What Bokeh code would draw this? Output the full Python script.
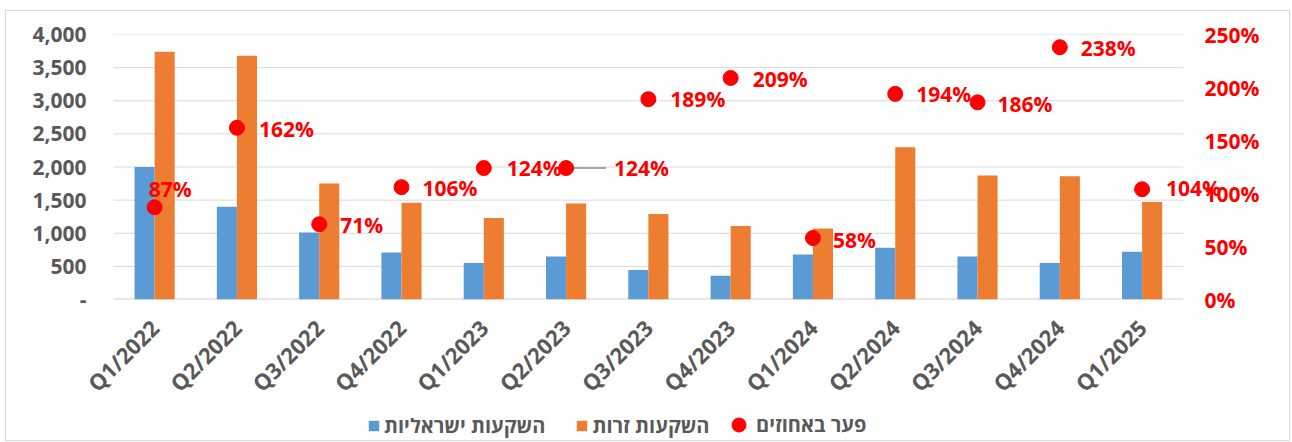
import math
from bokeh.plotting import figure
from bokeh.layouts import column
from bokeh.models import (ColumnDataSource, Range1d, LinearAxis, FixedTicker,
                          Legend, LegendItem, LabelSet)
from bokeh.core.properties import value
from bokeh.transform import dodge
from bokeh.embed import file_html
from bokeh.resources import INLINE

categories = ["Q1/2022", "Q2/2022", "Q3/2022", "Q4/2022", "Q1/2023", "Q2/2023", "Q3/2023",
              "Q4/2023", "Q1/2024", "Q2/2024", "Q3/2024", "Q4/2024", "Q1/2025"]
israeli = [2000, 1400, 1010, 710, 550, 650, 445, 360, 680, 780, 650, 550, 720]
foreign = [3740, 3680, 1750, 1460, 1230, 1450, 1290, 1110, 1070, 2300, 1870, 1860, 1470]
gap_pct = [87, 162, 71, 106, 124, 124, 189, 209, 58, 194, 186, 238, 104]

left_ticks = [0, 500, 1000, 1500, 2000, 2500, 3000, 3500, 4000]
left_tick_labels = ["-", "500", "1,000", "1,500", "2,000", "2,500", "3,000", "3,500", "4,000"]
right_ticks = [0, 0.5, 1.0, 1.5, 2.0, 2.5]
right_tick_labels = ["0%", "50%", "100%", "150%", "200%", "250%"]

series_names = ["השקעות ישראליות", "השקעות זרות", "פער באחוזים"]

# label placement (screen pixels, style only)
label_dx = [-6, 22, 21, 21, 23, 48, 22, 22, 20, 21, 20, 21, 24]
label_dy = [18, -1, -1, -1, 0, 0, 0, -1, -2, 0, -2, -1, 1]

BLUE = "#5B9BD5"
ORANGE = "#ED7D31"
RED = "#FF0000"
GRAY = "#595959"
GRID = "#d9d9d9"
FONT = "Open Sans"
W = 1283

n = len(categories)
xs = [i + 0.5 for i in range(n)]

src = ColumnDataSource(dict(
    x=xs, isr=israeli, frn=foreign,
    pct=[v / 100 for v in gap_pct],
    lbl=[f"{v}%" for v in gap_pct],
    dx=label_dx, dy=label_dy,
))

# frame extends a little past the last category so the last label is not clipped
p = figure(x_range=Range1d(0, n + 0.55), y_range=Range1d(0, 4000),
           width=W, height=399, output_backend="svg", toolbar_location=None,
           min_border_left=107, min_border_right=61, min_border_top=23, min_border_bottom=100)
p.extra_y_ranges = {"pct": Range1d(0, 2.5)}
p.outline_line_color = None
p.xgrid.grid_line_color = None
p.ygrid.grid_line_color = None

# horizontal grid lines spanning the category area only
p.segment(x0=[0] * len(left_ticks), x1=[n] * len(left_ticks), y0=left_ticks, y1=left_ticks,
          line_color=[("#d0d0d0" if t == 0 else GRID) for t in left_ticks],
          line_width=[2 if t == 0 else 1 for t in left_ticks])

r_isr = p.vbar(x=dodge("x", -0.122), top="isr", width=0.244, source=src,
               fill_color=BLUE, line_color=None)
r_frn = p.vbar(x=dodge("x", 0.122), top="frn", width=0.244, source=src,
               fill_color=ORANGE, line_color=None)

# leader line for the Q2/2023 label
i_lead = 5
unit_px = 1070 / n
p.segment(x0=[xs[i_lead]], y0=[gap_pct[i_lead] / 100], x1=[xs[i_lead] + 40 / unit_px],
          y1=[gap_pct[i_lead] / 100], y_range_name="pct", line_color="#a6a6a6", line_width=2)

r_pct = p.scatter(x="x", y="pct", source=src, y_range_name="pct", size=15,
                  fill_color=RED, line_color=RED, marker="circle")

labels = LabelSet(x="x", y="pct", text="lbl", source=src, y_range_name="pct",
                  x_offset="dx", y_offset="dy", text_align="left", text_baseline="middle",
                  text_color=RED, text_font_size="21px", text_font_style="bold",
                  text_font=value(FONT))
p.add_layout(labels)

# left axis
ya = p.yaxis[0]
ya.ticker = FixedTicker(ticks=left_ticks)
ya.major_label_overrides = {t: l for t, l in zip(left_ticks, left_tick_labels)}
ya.axis_line_color = None
ya.major_tick_line_color = None
ya.minor_tick_line_color = None
ya.major_label_standoff = 21
ya.major_label_text_color = GRAY
ya.major_label_text_font_style = "bold"
ya.major_label_text_font_size = "21px"
ya.major_label_text_font = FONT

# right axis
ra = LinearAxis(y_range_name="pct", ticker=FixedTicker(ticks=right_ticks))
ra.major_label_overrides = {t: l for t, l in zip(right_ticks, right_tick_labels)}
ra.axis_line_color = None
ra.major_tick_line_color = None
ra.minor_tick_line_color = None
ra.major_label_standoff = -30
ra.major_label_text_color = RED
ra.major_label_text_font_style = "bold"
ra.major_label_text_font_size = "21px"
ra.major_label_text_font = FONT
p.add_layout(ra, "right")

# x axis
xa = p.xaxis[0]
xa.ticker = FixedTicker(ticks=xs)
xa.major_label_overrides = {x: c for x, c in zip(xs, categories)}
xa.axis_line_color = None
xa.major_tick_line_color = None
xa.minor_tick_line_color = None
xa.major_label_orientation = math.pi / 4
xa.major_label_standoff = 18
xa.major_label_text_color = GRAY
xa.major_label_text_font_style = "bold"
xa.major_label_text_font_size = "22px"
xa.major_label_text_font = FONT

# legend strip below the chart
lf = figure(x_range=Range1d(0, 1), y_range=Range1d(0, 1), width=W, height=30,
            output_backend="svg", toolbar_location=None,
            x_axis_location=None, y_axis_location=None,
            min_border_left=0, min_border_right=0, min_border_top=0, min_border_bottom=0)
lf.grid.grid_line_color = None
lf.outline_line_color = None
l_isr = lf.vbar(x=[5], top=[5], bottom=[4], width=0.1, fill_color=BLUE, line_color=None)
l_frn = lf.vbar(x=[5], top=[5], bottom=[4], width=0.1, fill_color=ORANGE, line_color=None)
l_pct = lf.scatter(x=[5], y=[5], size=15, fill_color=RED, line_color=RED, marker="circle")

legend_style = dict(orientation="horizontal", label_text_color=GRAY, label_text_font_size="20px",
                    label_text_font_style="bold", label_text_font=FONT,
                    border_line_color=None, background_fill_alpha=0, padding=1, margin=0)
legend_bars = Legend(items=[LegendItem(label=series_names[0], renderers=[l_isr]),
                            LegendItem(label=series_names[1], renderers=[l_frn])],
                     location=(254, 1), glyph_width=13, glyph_height=13, label_standoff=4,
                     spacing=30, **legend_style)
legend_dot = Legend(items=[LegendItem(label=series_names[2], renderers=[l_pct])],
                    location=(608, -2), glyph_width=35, glyph_height=35, label_standoff=-11,
                    **legend_style)
lf.add_layout(legend_bars, "center")
lf.add_layout(legend_dot, "center")

layout = column(p, lf, spacing=0)
layout.styles = {"border": "1px solid #d9d9d9", "margin": "10px 0 0 5px"}

open("out.html", "w").write(file_html(layout, INLINE))
